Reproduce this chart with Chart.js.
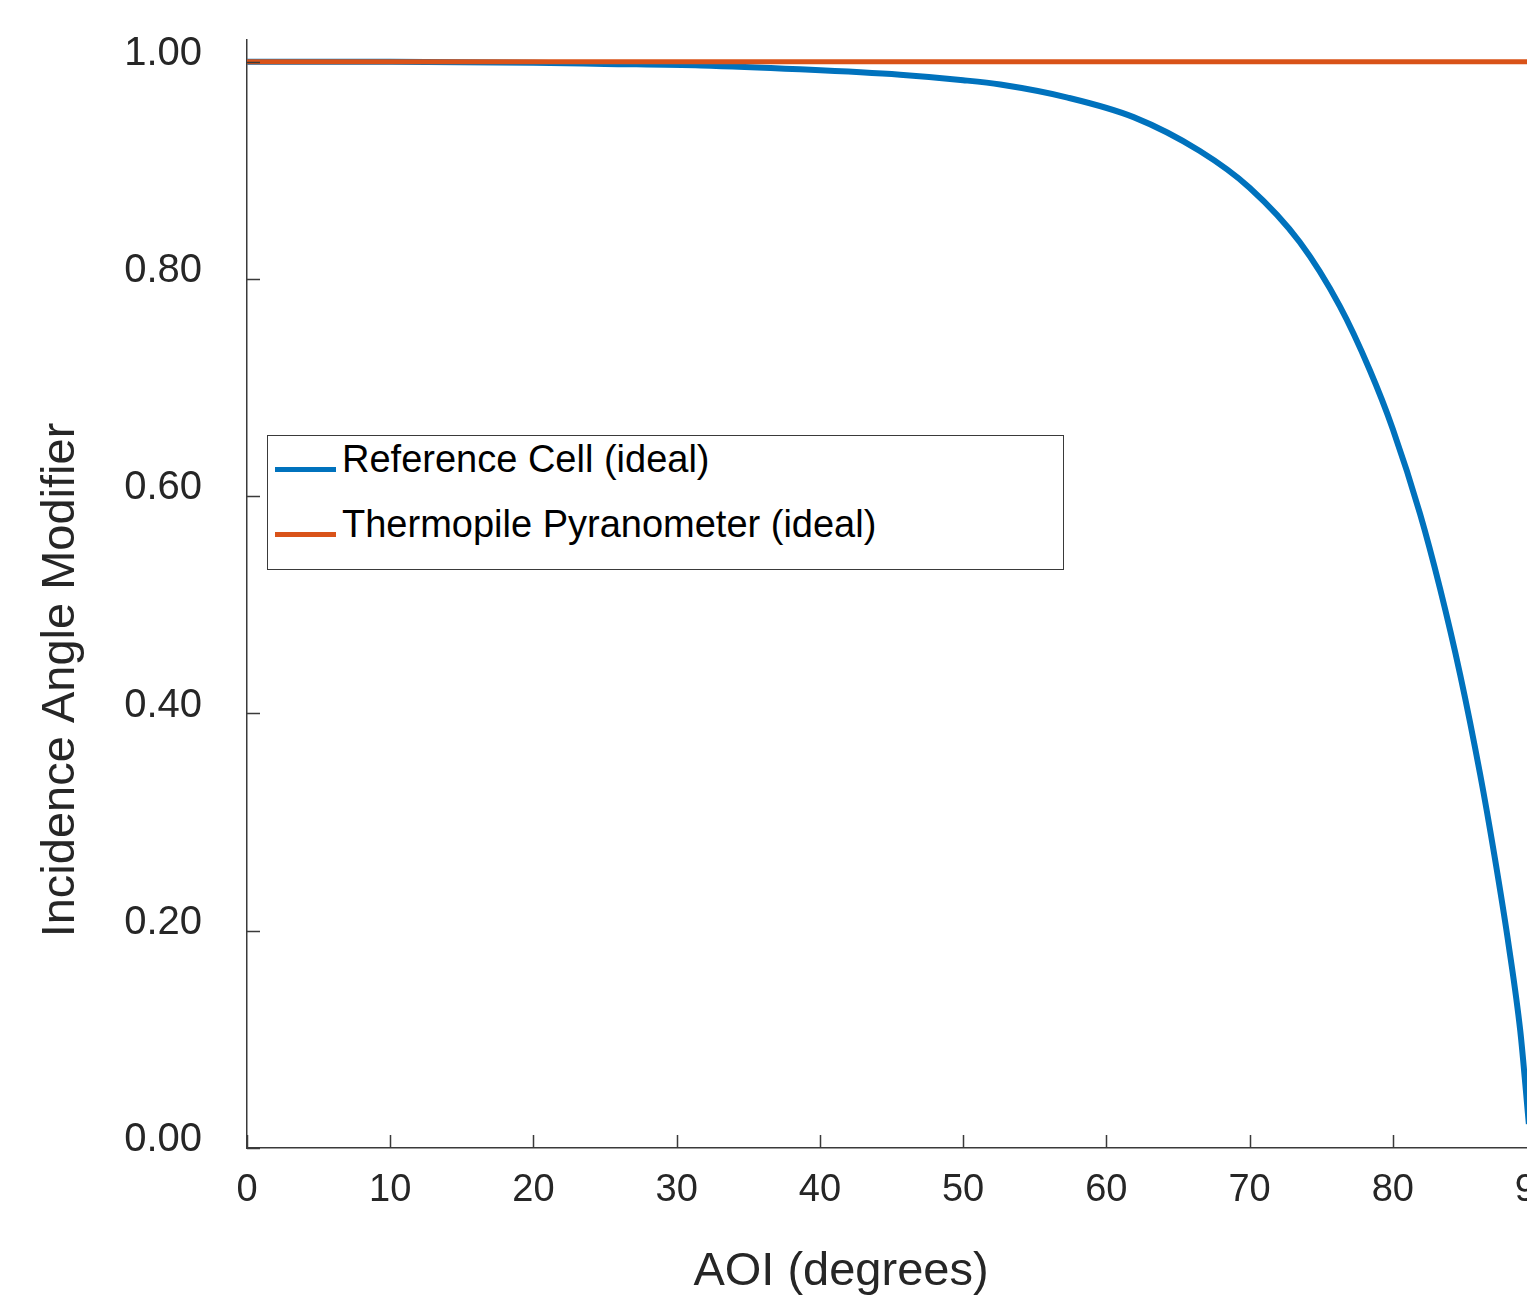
<!DOCTYPE html>
<html lang="en">
<head>
    <meta charset="UTF-8">
    <title>Incidence Angle Modifier</title>
    <script src="https://cdn.jsdelivr.net/npm/chart.js"></script>
    <style>
        body { margin: 0; overflow: hidden; background: #fff; font-family: "Liberation Sans", Arial, sans-serif; }
        #wrap { position: relative; width: 1560px; height: 1297px; }
        #legend { position: absolute; left: 267px; top: 435px; width: 795px; height: 133px; border: 1px solid #3a3a3a; background: #fff; }
        .item { position: absolute; left: 7px; height: 40px; }
        .item .swatch { position: absolute; left: 0; width: 61px; height: 5px; }
        .item .label { position: absolute; left: 67px; top: -3px; font-size: 38px; line-height: 40px; color: #000; white-space: nowrap; }
    </style>
</head>
<body>
    <div id="wrap">
        <canvas id="iamChart" width="1560" height="1297"></canvas>
        <div id="legend"></div>
    </div>

    <script>
        // angle of incidence (degrees) and modifier values
        const refAoi = [0, 10, 20, 25, 31.7, 38.6, 45.6, 50, 52.6, 57.3, 61.9, 66.5, 70, 73.5, 76.3, 78.4, 80, 81.9, 83.3, 84.7, 86.1, 87.1, 88.1, 88.9, 89.3, 89.5];
        const refIam = [1.000, 1.000, 0.999, 0.998, 0.9966, 0.993, 0.988, 0.983, 0.979, 0.967, 0.949, 0.918, 0.884, 0.834, 0.775, 0.716, 0.662, 0.584, 0.515, 0.436, 0.344, 0.269, 0.186, 0.108, 0.052, 0.022];
        const pyrAoi = [0, 90];
        const pyrIam = [1, 1];
        const xTicks = [0, 10, 20, 30, 40, 50, 60, 70, 80, 90];
        const yTicks = [0, 0.2, 0.4, 0.6, 0.8, 1.0];

        const seriesNames = ['Reference Cell (ideal)', 'Thermopile Pyranometer (ideal)'];
        const blue = '#0072BD';
        const orange = '#D95319';
        const axisColor = '#3a3a3a';
        const textColor = '#262626';
        const fontFamily = '"Liberation Sans", Arial, sans-serif';

        // ticks inside the axes + the two axis titles
        const insideTicks = {
            id: 'insideTicks',
            afterDraw(chart) {
                const ctx = chart.ctx;
                const xs = chart.scales.x, ys = chart.scales.y;
                const area = chart.chartArea;
                ctx.save();
                ctx.strokeStyle = axisColor;
                ctx.lineWidth = 1.5;
                ctx.beginPath();
                xTicks.forEach(v => {
                    const px = Math.round(xs.getPixelForValue(v)) + 0.5;
                    ctx.moveTo(px, area.bottom);
                    ctx.lineTo(px, area.bottom - 13);
                });
                yTicks.forEach(v => {
                    const py = Math.round(ys.getPixelForValue(v)) + 0.5;
                    ctx.moveTo(area.left, py);
                    ctx.lineTo(area.left + 13, py);
                });
                ctx.stroke();

                ctx.fillStyle = textColor;
                ctx.font = '47px ' + fontFamily;
                ctx.textAlign = 'center';
                ctx.textBaseline = 'middle';
                ctx.fillText('AOI (degrees)', 841, 1272);
                ctx.translate(61, 680);
                ctx.rotate(-Math.PI / 2);
                ctx.fillText('Incidence Angle Modifier', 0, 0);
                ctx.restore();
            }
        };

        const ctx = document.getElementById('iamChart').getContext('2d');
        const iamChart = new Chart(ctx, {
            type: 'line',
            data: {
                datasets: [
                    {
                        label: seriesNames[0],
                        data: refAoi.map((a, i) => ({ x: a, y: refIam[i] })),
                        borderColor: blue,
                        borderWidth: 6,
                        pointRadius: 0,
                        cubicInterpolationMode: 'monotone',
                        fill: false,
                        order: 2
                    },
                    {
                        label: seriesNames[1],
                        data: pyrAoi.map((a, i) => ({ x: a, y: pyrIam[i] })),
                        borderColor: orange,
                        borderWidth: 5,
                        pointRadius: 0,
                        fill: false,
                        order: 1
                    }
                ]
            },
            options: {
                responsive: false,
                animation: false,
                layout: { padding: { top: 40, right: 24, left: 0, bottom: 0 } },
                plugins: {
                    legend: { display: false },
                    tooltip: { enabled: false }
                },
                scales: {
                    x: {
                        type: 'linear',
                        min: 0,
                        max: 90,
                        afterFit: s => { s.height = 149; s.paddingLeft = 0; s.paddingRight = 0; },
                        afterBuildTicks: s => { s.ticks = xTicks.map(v => ({ value: v })); },
                        grid: { display: false, drawTicks: false },
                        border: { display: true, color: axisColor, width: 1.5 },
                        ticks: {
                            padding: 20,
                            color: textColor,
                            font: { family: fontFamily, size: 38 },
                            maxRotation: 0
                        }
                    },
                    y: {
                        min: 0,
                        max: 1.02,
                        afterFit: s => { s.width = 247; s.paddingTop = 0; s.paddingBottom = 0; },
                        afterBuildTicks: s => { s.ticks = yTicks.map(v => ({ value: v })); },
                        grid: { display: false, drawTicks: false },
                        border: { display: true, color: axisColor, width: 1.5 },
                        ticks: {
                            padding: 45,
                            labelOffset: -8,
                            color: textColor,
                            font: { family: fontFamily, size: 40 },
                            callback: v => Number(v).toFixed(2)
                        }
                    }
                }
            },
            plugins: [insideTicks]
        });

        // legend as html, built from the datasets
        const legend = document.getElementById('legend');
        iamChart.data.datasets.forEach((ds, i) => {
            const item = document.createElement('div');
            item.className = 'item';
            item.style.top = (6 + i * 65) + 'px';
            const sw = document.createElement('div');
            sw.className = 'swatch';
            sw.style.top = '25px';
            sw.style.background = ds.borderColor;
            const lb = document.createElement('div');
            lb.className = 'label';
            lb.textContent = ds.label;
            item.appendChild(sw);
            item.appendChild(lb);
            legend.appendChild(item);
        });
    </script>
</body>
</html>
